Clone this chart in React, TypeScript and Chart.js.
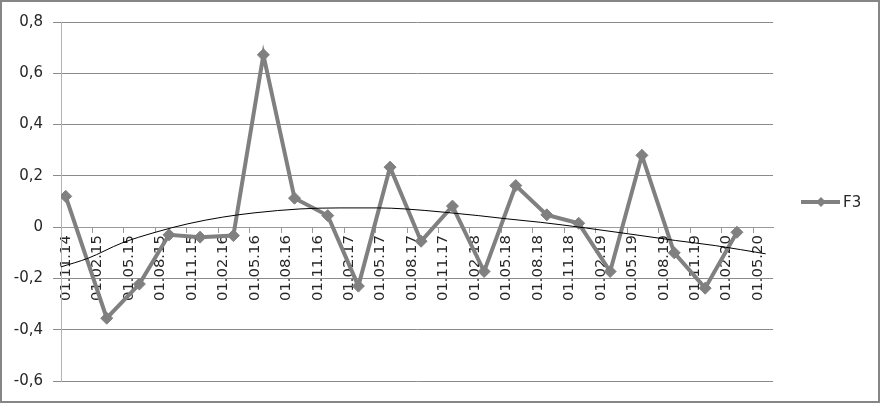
import React, { useEffect, useRef } from "react";
import { Chart, registerables } from "chart.js";

Chart.register(...registerables);

// Quarterly tick labels of the date axis (one every 3 months from 01.11.14)
const tickLabels = [
  "01.11.14", "01.02.15", "01.05.15", "01.08.15", "01.11.15", "01.02.16",
  "01.05.16", "01.08.16", "01.11.16", "01.02.17", "01.05.17", "01.08.17",
  "01.11.17", "01.02.18", "01.05.18", "01.08.18", "01.11.18", "01.02.19",
  "01.05.19", "01.08.19", "01.11.19", "01.02.20", "01.05.20",
];
const tickMonths = tickLabels.map((_, i) => i * 3);

// Positions of the observations, in months since 01.11.14
const pointMonths = [
  0.45, 4.36, 7.47, 10.3, 13.26, 16.44, 19.3, 22.27, 25.44, 28.36, 31.38,
  34.34, 37.33, 40.35, 43.37, 46.33, 49.37, 52.37, 55.4, 58.48, 61.43, 64.46,
];
const f3Values = [
  0.12, -0.355, -0.222, -0.03, -0.039, -0.033, 0.672, 0.113, 0.045, -0.23,
  0.234, -0.055, 0.082, -0.173, 0.162, 0.048, 0.015, -0.173, 0.28, -0.1,
  -0.238, -0.02,
];

// Trend line
const trendMonths = [
  0, 2.6, 5.8, 9.0, 12.1, 15.4, 18.5, 22.8, 26.6, 30.2, 32.8, 36.6, 39.8,
  42.6, 45.7, 50.0, 54.1, 58.6, 62.4, 67.2,
];
const trendValues = [
  -0.155, -0.121, -0.062, -0.02, 0.013, 0.039, 0.056, 0.071, 0.075, 0.075,
  0.071, 0.058, 0.045, 0.032, 0.019, -0.003, -0.026, -0.052, -0.072, -0.104,
];

const yTicks = [-0.6, -0.4, -0.2, 0, 0.2, 0.4, 0.6, 0.8];
const seriesName = "F3";

const FONT = "'DejaVu Sans', sans-serif";
const LINE_GRAY = "#808080";

export default function App() {
  const ref = useRef<HTMLCanvasElement | null>(null);

  useEffect(() => {
    if (!ref.current) return;

    const framePlugin = {
      id: "frame",
      beforeDraw(chart: any) {
        const ctx = chart.ctx;
        ctx.save();
        ctx.fillStyle = "#ffffff";
        ctx.fillRect(0, 0, chart.width, chart.height);
        ctx.restore();
      },
      afterDraw(chart: any) {
        const ctx = chart.ctx;
        ctx.save();
        ctx.strokeStyle = "#868686";
        ctx.lineWidth = 2;
        ctx.strokeRect(1, 1, chart.width - 3, chart.height - 2);
        // legend
        const ly = 202;
        ctx.strokeStyle = LINE_GRAY;
        ctx.lineWidth = 4;
        ctx.beginPath();
        ctx.moveTo(801, ly);
        ctx.lineTo(840, ly);
        ctx.stroke();
        ctx.fillStyle = LINE_GRAY;
        ctx.beginPath();
        const r = 5;
        ctx.moveTo(821, ly - r);
        ctx.lineTo(821 + r, ly);
        ctx.lineTo(821, ly + r);
        ctx.lineTo(821 - r, ly);
        ctx.closePath();
        ctx.fill();
        ctx.fillStyle = "#262626";
        ctx.font = `15px ${FONT}`;
        ctx.textBaseline = "middle";
        ctx.textAlign = "left";
        ctx.fillText(seriesName, 843, ly + 1);
        ctx.restore();
      },
    };

    const chart = new Chart(ref.current, {
      type: "line",
      data: {
        datasets: [
          {
            label: "trend",
            data: trendMonths.map((m, i) => ({ x: m, y: trendValues[i] })),
            borderColor: "#000000",
            borderWidth: 1,
            pointRadius: 0,
            cubicInterpolationMode: "monotone",
            fill: false,
            order: 0,
          },
          {
            label: seriesName,
            data: pointMonths.map((m, i) => ({ x: m, y: f3Values[i] })),
            borderColor: LINE_GRAY,
            borderWidth: 4,
            pointStyle: "rectRot",
            pointRadius: 6,
            pointBackgroundColor: LINE_GRAY,
            pointBorderColor: LINE_GRAY,
            pointBorderWidth: 1,
            tension: 0,
            fill: false,
            order: 1,
          },
        ],
      },
      options: {
        animation: false,
        responsive: false,
        events: [],
        layout: { padding: { left: 0, top: 22, right: 108, bottom: 22 } },
        plugins: {
          legend: { display: false },
          tooltip: { enabled: false },
        },
        scales: {
          x: {
            type: "linear",
            position: { y: 0 } as any,
            min: 0,
            max: 67.9,
            afterBuildTicks: (scale: any) => {
              scale.ticks = tickMonths.map((v) => ({ value: v }));
            },
            ticks: {
              autoSkip: false,
              maxRotation: 90,
              minRotation: 90,
              padding: 3,
              labelOffset: 5,
              color: "#262626",
              font: { family: FONT, size: 14.8 },
              callback: (v: any) => tickLabels[Math.round(Number(v) / 3)] ?? "",
            },
            grid: {
              drawOnChartArea: false,
              drawTicks: true,
              tickLength: 5,
              color: "#9a9a9a",
            },
            border: { display: true, color: "#9a9a9a", width: 1 },
          },
          y: {
            type: "linear",
            min: -0.6,
            max: 0.8,
            afterFit: (scale: any) => {
              scale.width = 61;
            },
            afterBuildTicks: (scale: any) => {
              scale.ticks = yTicks.map((v) => ({ value: v }));
            },
            ticks: {
              padding: 10,
              color: "#262626",
              font: { family: FONT, size: 15 },
              callback: (v: any) => {
                const n = Math.round(Number(v) * 10) / 10;
                return n === 0 ? "0" : n.toFixed(1).replace(".", ",");
              },
            },
            grid: {
              color: "#8a8a8a",
              tickColor: "#8a8a8a",
              tickLength: 8,
              drawTicks: true,
            },
            border: { display: true, color: "#b3b3b3", width: 1 },
          },
        },
      },
      plugins: [framePlugin],
    } as any);

    return () => chart.destroy();
  }, []);

  return (
    <canvas
      ref={ref}
      width={881}
      height={403}
      style={{ position: "absolute", left: 0, top: 0, display: "block" }}
    />
  );
}
